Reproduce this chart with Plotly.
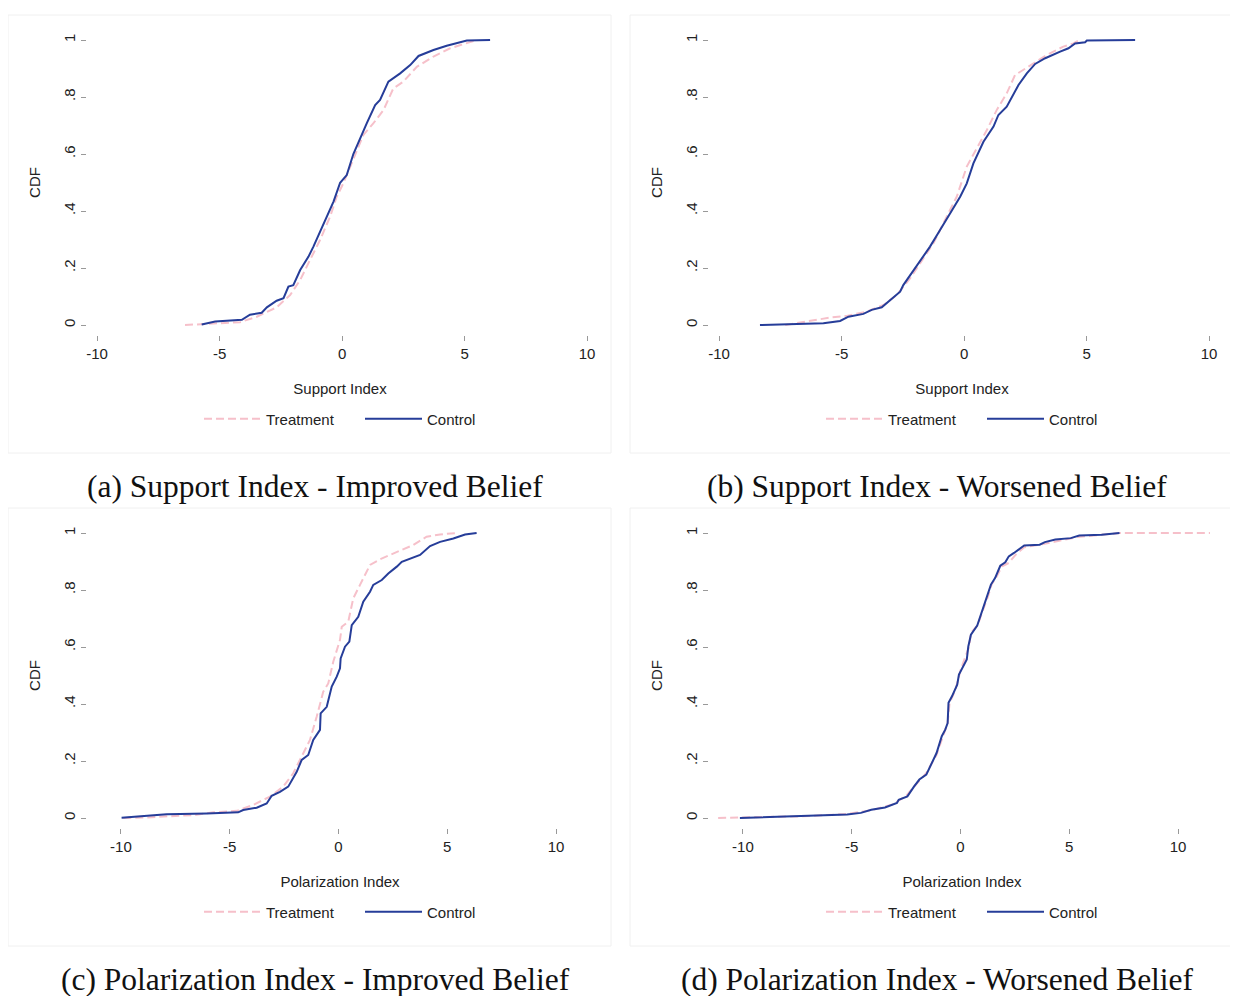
import plotly.graph_objects as go

# ---------------- data ----------------
# (a) Support Index - Improved Belief
a_ctrl_x = [-5.73, -5.18, -4.09, -3.76, -3.28, -3.07, -2.67, -2.39, -2.19, -1.99, -1.71, -1.37, -1.17, -0.90,
            -0.63, -0.35, -0.08, 0.19, 0.46, 0.73, 1.01, 1.35, 1.55, 1.89, 2.37, 2.78, 3.12, 3.73, 4.27, 5.09, 6.04]
a_ctrl_y = [0.002, 0.012, 0.018, 0.036, 0.043, 0.062, 0.085, 0.094, 0.135, 0.140, 0.193, 0.240, 0.275, 0.327,
            0.380, 0.433, 0.499, 0.526, 0.600, 0.655, 0.708, 0.772, 0.790, 0.854, 0.883, 0.912, 0.944, 0.965, 0.980, 0.998, 1.0]
a_treat_x = [-6.41, -5.25, -4.16, -3.48, -2.67, -2.12, -1.71, -1.31, -0.90, -0.49, -0.22, 0.05, 0.33, 0.60, 0.87,
             1.28, 1.69, 2.09, 2.50, 3.05, 3.73, 4.41, 5.22, 5.50]
a_treat_y = [0.0, 0.004, 0.010, 0.029, 0.062, 0.105, 0.158, 0.228, 0.298, 0.380, 0.450, 0.497, 0.556, 0.614, 0.667,
             0.708, 0.754, 0.830, 0.854, 0.906, 0.942, 0.971, 0.991, 1.0]

# (b) Support Index - Worsened Belief
b_ctrl_x = [-8.33, -5.74, -5.06, -4.72, -4.11, -3.77, -3.36, -3.02, -2.61, -2.48, -2.14, -1.80, -1.39, -0.98, -0.57,
            -0.16, 0.11, 0.38, 0.79, 1.20, 1.40, 1.74, 2.22, 2.56, 2.90, 3.31, 3.92, 4.26, 4.53, 4.94, 5.01, 6.98]
b_ctrl_y = [0.0, 0.006, 0.014, 0.029, 0.039, 0.053, 0.062, 0.088, 0.117, 0.140, 0.181, 0.222, 0.275, 0.333, 0.392,
            0.450, 0.497, 0.567, 0.643, 0.696, 0.737, 0.766, 0.842, 0.883, 0.916, 0.936, 0.959, 0.971, 0.988, 0.992, 0.998, 1.0]
b_treat_x = [-7.30, -6.15, -5.47, -4.79, -3.97, -3.29, -2.75, -2.20, -1.80, -1.25, -0.71, -0.30, 0.11, 0.52, 0.93,
             1.33, 1.74, 2.08, 2.42, 2.83, 3.37, 4.05, 4.46, 4.70]
b_treat_y = [0.0, 0.015, 0.026, 0.032, 0.047, 0.070, 0.105, 0.164, 0.216, 0.287, 0.380, 0.450, 0.556, 0.620, 0.684,
             0.754, 0.813, 0.877, 0.895, 0.918, 0.947, 0.977, 0.988, 1.0]

# (c) Polarization Index - Improved Belief
c_ctrl_x = [-9.97, -8.82, -7.90, -6.06, -4.61, -4.38, -3.76, -3.30, -3.07, -2.69, -2.31, -1.92, -1.69, -1.39, -1.16,
            -0.85, -0.82, -0.54, -0.31, -0.08, 0.07, 0.10, 0.30, 0.50, 0.61, 0.91, 1.14, 1.45, 1.60, 1.99, 2.29, 2.68,
            2.91, 3.75, 4.21, 4.67, 5.28, 5.82, 6.35]
c_ctrl_y = [0.001, 0.007, 0.013, 0.016, 0.020, 0.028, 0.036, 0.051, 0.078, 0.092, 0.110, 0.162, 0.204, 0.221, 0.274,
            0.309, 0.367, 0.390, 0.461, 0.496, 0.525, 0.560, 0.601, 0.619, 0.677, 0.706, 0.759, 0.794, 0.818, 0.835,
            0.858, 0.882, 0.899, 0.923, 0.954, 0.969, 0.981, 0.995, 1.0]
c_treat_x = [-9.89, -8.82, -6.52, -5.75, -4.68, -3.92, -3.15, -2.54, -2.08, -1.69, -1.31, -1.00, -0.70, -0.47, -0.24,
             0.07, 0.15, 0.45, 0.68, 0.99, 1.45, 1.91, 2.37, 2.98, 3.44, 4.05, 4.67, 5.43]
c_treat_y = [0.0, 0.002, 0.011, 0.020, 0.025, 0.046, 0.075, 0.110, 0.157, 0.215, 0.274, 0.356, 0.443, 0.472, 0.548,
             0.625, 0.671, 0.689, 0.771, 0.818, 0.888, 0.908, 0.923, 0.944, 0.958, 0.987, 0.995, 1.0]

# (d) Polarization Index - Worsened Belief
d_ctrl_x = [-10.14, -6.95, -5.21, -4.58, -4.10, -3.47, -2.92, -2.84, -2.44, -2.13, -1.89, -1.57, -1.42, -1.18, -1.10,
            -0.86, -0.70, -0.59, -0.55, -0.39, -0.15, -0.07, 0.09, 0.29, 0.36, 0.48, 0.77, 0.96, 1.19, 1.40, 1.59,
            1.83, 2.06, 2.22, 2.46, 2.93, 3.64, 3.88, 4.36, 5.07, 5.46, 6.49, 7.31]
d_ctrl_y = [0.0, 0.008, 0.012, 0.018, 0.029, 0.037, 0.053, 0.064, 0.076, 0.111, 0.135, 0.152, 0.175, 0.211, 0.228,
            0.287, 0.310, 0.333, 0.404, 0.427, 0.468, 0.503, 0.526, 0.556, 0.602, 0.643, 0.675, 0.719, 0.766, 0.819,
            0.842, 0.885, 0.897, 0.918, 0.930, 0.956, 0.959, 0.968, 0.977, 0.982, 0.991, 0.994, 1.0]
d_treat_x = [-11.14, -7.26, -5.21, -4.10, -3.15, -2.52, -2.05, -1.57, -1.10, -0.78, -0.59, -0.50, -0.23, 0.01, 0.40,
             0.48, 0.80, 1.04, 1.27, 1.43, 1.67, 1.91, 2.22, 2.54, 2.93, 3.80, 4.59, 5.38, 7.31, 11.47]
d_treat_y = [0.0, 0.006, 0.014, 0.027, 0.047, 0.076, 0.117, 0.158, 0.222, 0.287, 0.333, 0.404, 0.450, 0.520, 0.602,
             0.649, 0.678, 0.731, 0.778, 0.819, 0.848, 0.883, 0.895, 0.924, 0.950, 0.961, 0.974, 0.986, 1.0, 1.0]

x_titles = ["Support Index", "Support Index", "Polarization Index", "Polarization Index"]
captions = ["(a) Support Index - Improved Belief", "(b) Support Index - Worsened Belief",
            "(c) Polarization Index - Improved Belief", "(d) Polarization Index - Worsened Belief"]
x_ticks = [-10, -5, 0, 5, 10]
x_tick_text = ["-10", "-5", "0", "5", "10"]
y_ticks = [0, 0.2, 0.4, 0.6, 0.8, 1]
y_tick_text = ["0", ".2", ".4", ".6", ".8", "1"]
series_names = ["Treatment", "Control"]

panels = [
    (a_treat_x, a_treat_y, a_ctrl_x, a_ctrl_y),
    (b_treat_x, b_treat_y, b_ctrl_x, b_ctrl_y),
    (c_treat_x, c_treat_y, c_ctrl_x, c_ctrl_y),
    (d_treat_x, d_treat_y, d_ctrl_x, d_ctrl_y),
]

# ---------------- styling / layout ----------------
# The page body has an 8px margin, so the figure is 8px smaller than the window
OFF = 8
W, H = 1238 - OFF, 996 - OFF

BLUE = "#263d99"
PINK = "#f6c0ca"
SANS = "Liberation Sans, Arial, sans-serif"
SERIF = "Liberation Serif, Times New Roman, serif"

# window-pixel boxes of each plot region: (left, right, top, bottom)
boxes = [(87, 593, 30, 335), (709, 1215, 30, 335), (87, 593, 523, 828), (709, 1215, 523, 828)]
x_ranges = [[-10.41, 10.24], [-10.41, 10.24], [-11.56, 11.70], [-11.56, 11.70]]
y_range = [-0.0351, 1.0351]
frames = [(8, 611, 15, 453), (630, 1233, 15, 453), (8, 611, 508, 946), (630, 1233, 508, 946)]
legend_left = [(199, 419), (821, 419), (199, 912), (821, 912)]
caption_centers = [(315, 486), (937, 486), (315, 979), (937, 979)]


def px(x):
    return (x - OFF) / W


def py(y):
    return 1 - (y - OFF) / H


fig = go.Figure()
legend_keys = ["legend", "legend2", "legend3", "legend4"]

for i, (tx, ty, cx, cy) in enumerate(panels):
    ax = "" if i == 0 else str(i + 1)
    fig.add_trace(go.Scatter(x=tx, y=ty, mode="lines", name=series_names[0],
                             line=dict(color=PINK, width=2, dash="8px,4px"),
                             xaxis="x" + ax, yaxis="y" + ax, legend=legend_keys[i]))
    fig.add_trace(go.Scatter(x=cx, y=cy, mode="lines", name=series_names[1],
                             line=dict(color=BLUE, width=2),
                             xaxis="x" + ax, yaxis="y" + ax, legend=legend_keys[i]))

layout = dict(width=W, height=H, margin=dict(l=0, r=0, t=0, b=0, autoexpand=False),
              paper_bgcolor="white", plot_bgcolor="white",
              font=dict(family=SANS, size=15, color="#222222"), shapes=[], annotations=[])

for i in range(4):
    l, r, t, b = boxes[i]
    key = "" if i == 0 else str(i + 1)
    layout["xaxis" + key] = dict(domain=[px(l), px(r)], range=x_ranges[i], anchor="y" + key,
                                 tickvals=x_ticks, ticktext=x_tick_text, ticks="outside", ticklen=5,
                                 tickcolor="#999999", showline=False, showgrid=False, zeroline=False,
                                 automargin=False,
                                 tickfont=dict(size=15, color="#222222"),
                                 title=dict(text=x_titles[i], font=dict(size=15), standoff=22))
    layout["yaxis" + key] = dict(domain=[py(b), py(t)], range=y_range, anchor="x" + key,
                                 tickvals=y_ticks, ticktext=y_tick_text, tickangle=-90,
                                 ticks="outside", ticklen=5, tickcolor="#999999",
                                 showline=False, showgrid=False, zeroline=False,
                                 automargin=False,
                                 tickfont=dict(size=15, color="#222222"),
                                 title=dict(text="CDF", font=dict(size=15), standoff=16))
    lx, ly = legend_left[i]
    layout[legend_keys[i]] = dict(orientation="h", x=px(lx), y=py(ly), xanchor="left", yanchor="middle",
                                  xref="paper", yref="paper", itemwidth=57,
                                  entrywidth=89, entrywidthmode="pixels",
                                  font=dict(size=15, color="#222222"), bgcolor="rgba(0,0,0,0)",
                                  traceorder="normal")
    fl, fr, ft, fb = frames[i]
    layout["shapes"].append(dict(type="rect", xref="paper", yref="paper",
                                 x0=px(fl), x1=px(fr), y0=py(fb), y1=py(ft),
                                 line=dict(color="#f0f0f0", width=1), layer="below"))
    cxp, cyp = caption_centers[i]
    layout["annotations"].append(dict(text=captions[i], xref="paper", yref="paper",
                                      x=px(cxp), y=py(cyp), xanchor="center", yanchor="middle",
                                      showarrow=False, font=dict(family=SERIF, size=31.5, color="#111111")))

fig.update_layout(**layout)
fig.write_html("out.html")
